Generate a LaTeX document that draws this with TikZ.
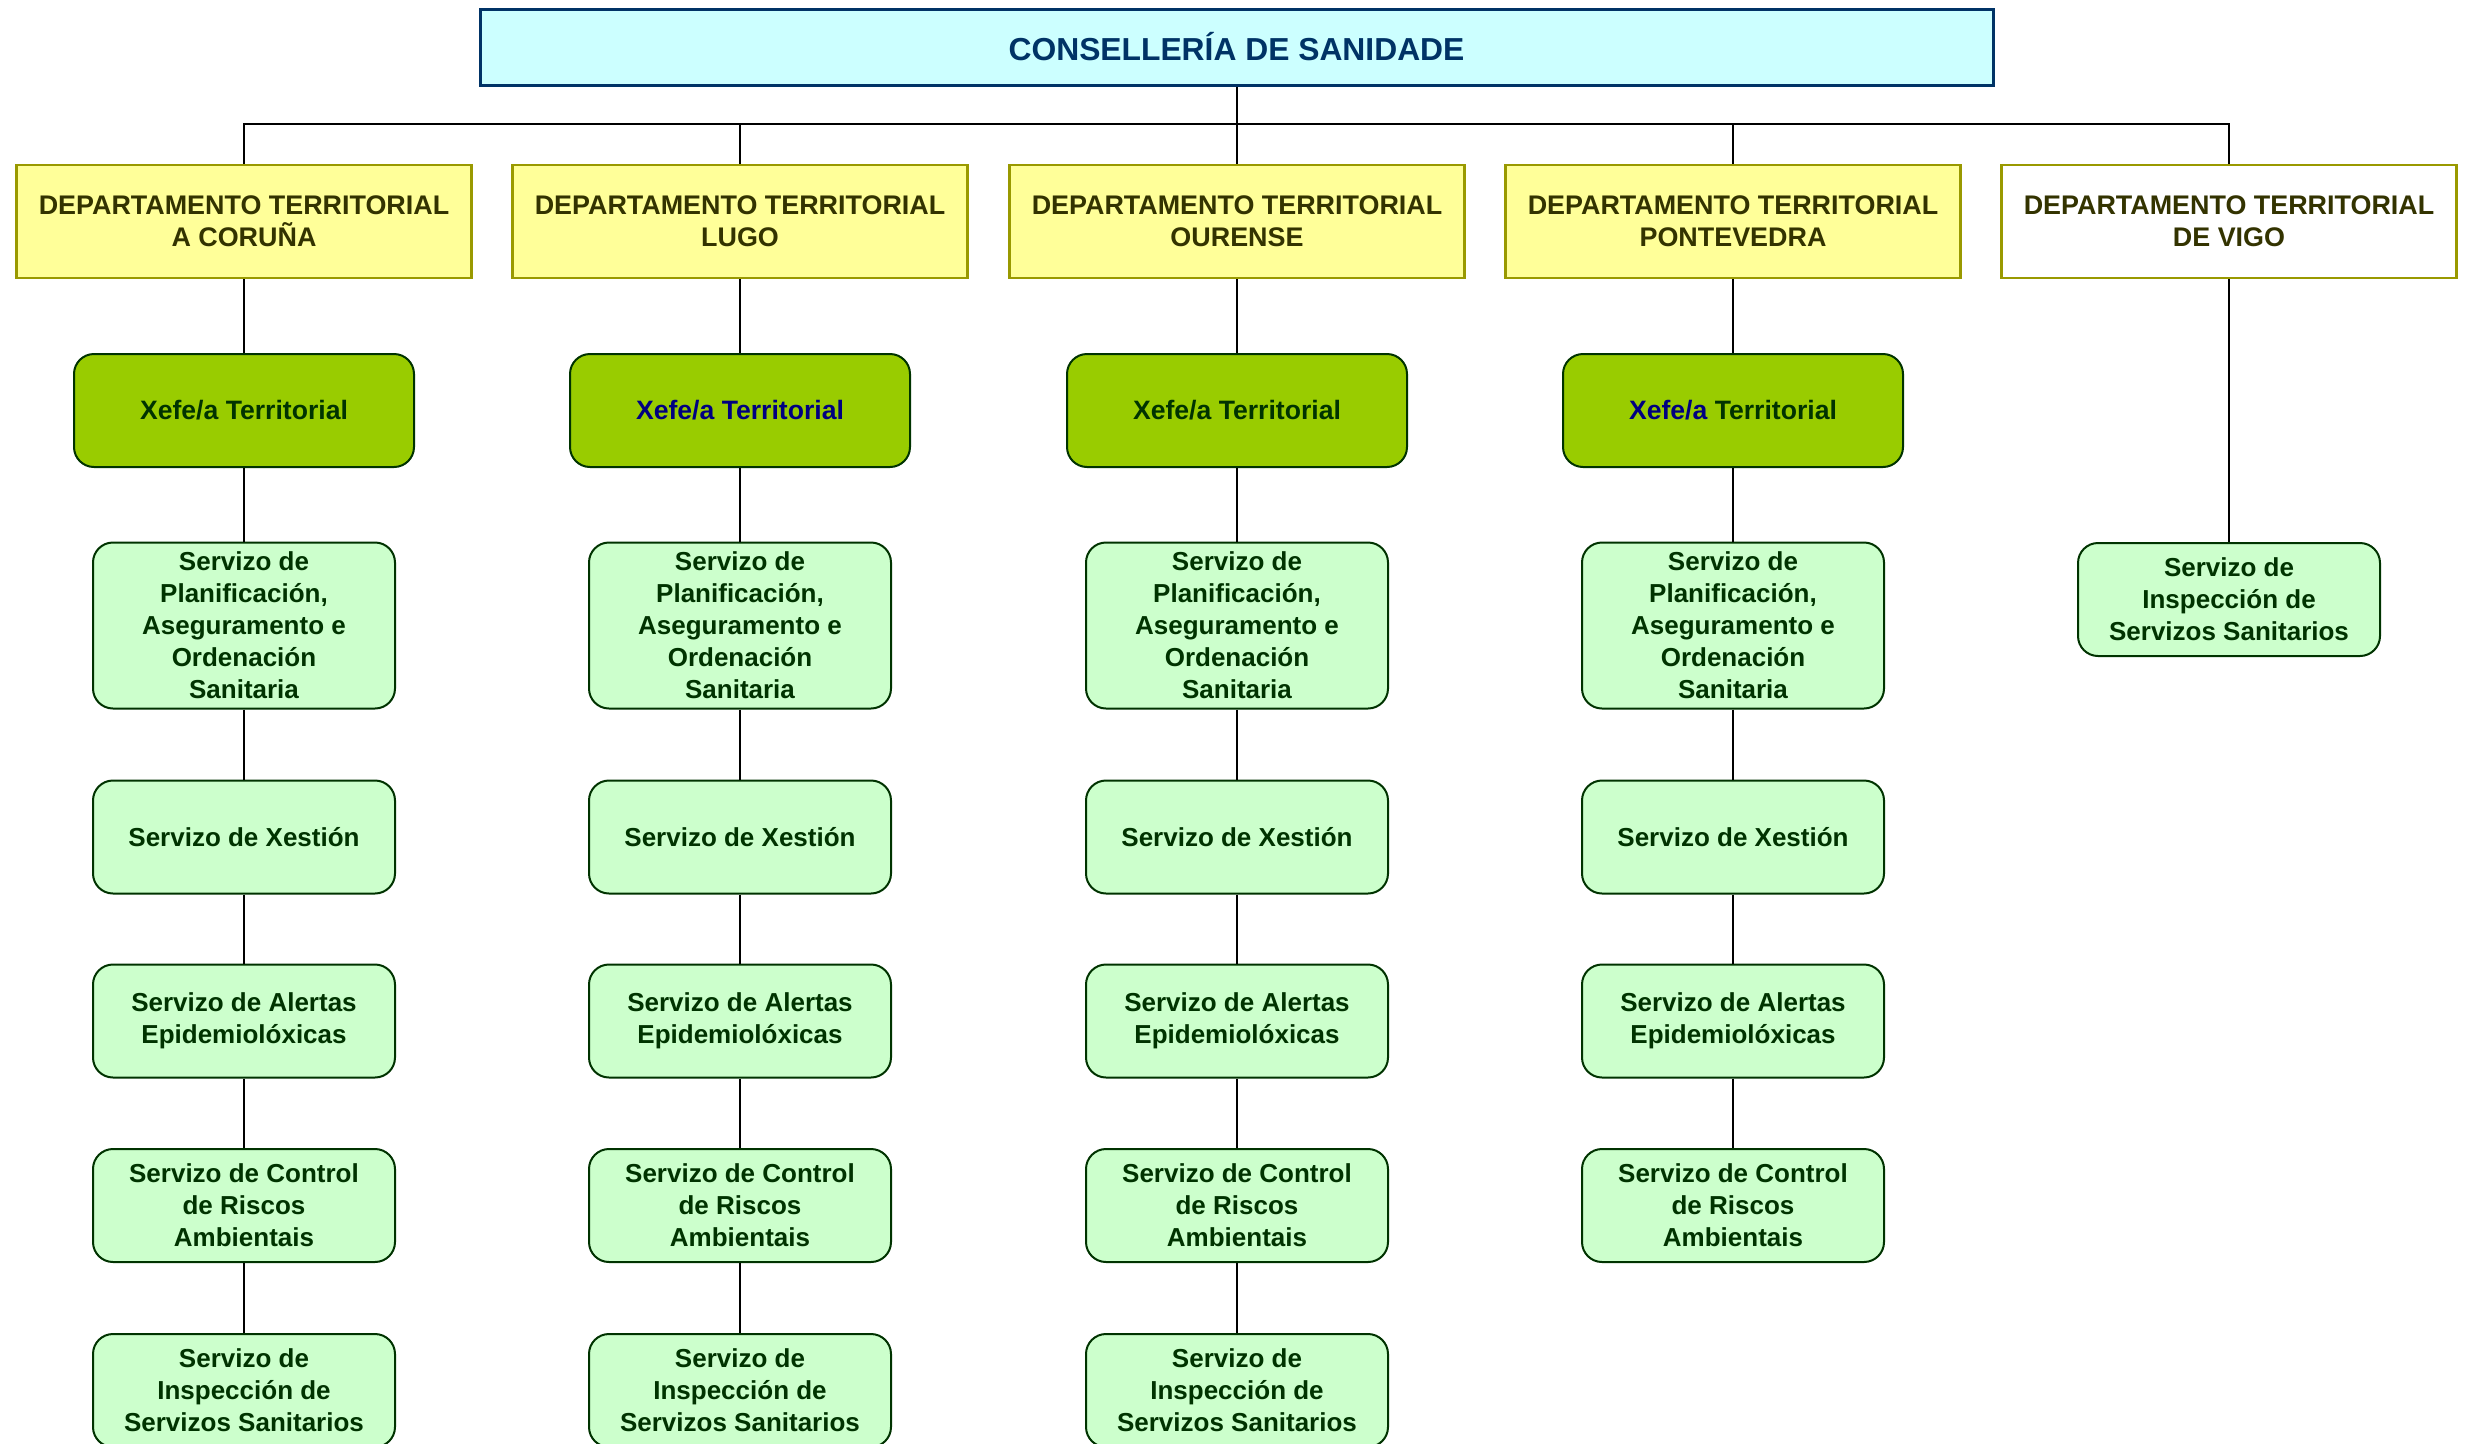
\documentclass[tikz,border=0pt]{standalone}
\usepackage{fontspec}
\setmainfont{Liberation Sans}
\definecolor{topfill}{HTML}{CCFFFF}
\definecolor{topdraw}{HTML}{003366}
\definecolor{deptfill}{HTML}{FFFF99}
\definecolor{deptdraw}{HTML}{999900}
\definecolor{depttext}{HTML}{333300}
\definecolor{xefefill}{HTML}{99CC00}
\definecolor{darkgreen}{HTML}{003300}
\definecolor{servfill}{HTML}{CCFFCC}
\definecolor{navy}{HTML}{000080}
\begin{document}
\begin{tikzpicture}[x=1pt,y=-1pt,
  base/.style={inner sep=0pt, align=center, font=\fontsize{26}{32}\selectfont\bfseries},
  topbox/.style={base, draw=topdraw, line width=3pt, fill=topfill, minimum width=1513pt, minimum height=76pt, text=topdraw, font=\fontsize{31.8}{38}\selectfont\bfseries},
  dept/.style={base, draw=deptdraw, line width=2.5pt, fill=deptfill, minimum width=455pt, minimum height=113pt, text=depttext, font=\fontsize{26.9}{32}\selectfont\bfseries},
  xefe/.style={base, draw=darkgreen, line width=2pt, fill=xefefill, rounded corners=20pt, minimum width=340pt, minimum height=113pt, text=darkgreen, font=\fontsize{26.6}{32}\selectfont\bfseries},
  serv/.style={base, draw=darkgreen, line width=2pt, fill=servfill, rounded corners=20pt, minimum width=302pt, minimum height=113pt, text=darkgreen},
  conn/.style={draw=black, line width=2pt}]
\useasboundingbox (0,0) rectangle (2470,1443);
\clip (0,0) rectangle (2470,1443);
\fill[white] (0,0) rectangle (2470,1443);

\node[topbox] (top) at (1236.5,47) {CONSELLERÍA DE SANIDADE};

\node[dept] (d1) at (244,221.5) {DEPARTAMENTO TERRITORIAL\\A CORUÑA};
\node[dept] (d2) at (740,221.5) {DEPARTAMENTO TERRITORIAL\\LUGO};
\node[dept] (d3) at (1237,221.5) {DEPARTAMENTO TERRITORIAL\\OURENSE};
\node[dept] (d4) at (1733,221.5) {DEPARTAMENTO TERRITORIAL\\PONTEVEDRA};
\node[dept, fill=white] (d5) at (2229,221.5) {DEPARTAMENTO TERRITORIAL\\DE VIGO};

\node[xefe] (x1) at (244,410.5) {Xefe/a Territorial};
\node[xefe, text=navy] (x2) at (740,410.5) {Xefe/a Territorial};
\node[xefe] (x3) at (1237,410.5) {Xefe/a Territorial};
\node[xefe] (x4) at (1733,410.5) {\textcolor{navy}{Xefe/a} Territorial};

\foreach \i/\cx in {1/244,2/740,3/1237,4/1733}{
  \node[serv, minimum height=166pt] (p\i) at (\cx,625.5) {Servizo de\\Planificación,\\Aseguramento e\\Ordenación\\Sanitaria};
  \node[serv] (g\i) at (\cx,837) {Servizo de Xestión};
  \node[serv] (a\i) at (\cx,1021) {Servizo de Alertas\\Epidemiolóxicas};
  \node[serv] (c\i) at (\cx,1205.5) {Servizo de Control\\de Riscos\\Ambientais};
}
\foreach \i/\cx in {1/244,2/740,3/1237}{
  \node[serv] (i\i) at (\cx,1390.5) {Servizo de\\Inspección de\\Servizos Sanitarios};
}
\node[serv] (i5) at (2229,599.5) {Servizo de\\Inspección de\\Servizos Sanitarios};

\coordinate (hub) at (1236.5,124);
\draw[conn] (top.south) -- (hub);
\foreach \i in {1,...,5}{ \draw[conn] (hub) -| (d\i.north); }
\foreach \i in {1,...,4}{
  \draw[conn] (d\i.south) -- (x\i.north);
  \draw[conn] (x\i.south) -- (p\i.north);
  \draw[conn] (p\i.south) -- (g\i.north);
  \draw[conn] (g\i.south) -- (a\i.north);
  \draw[conn] (a\i.south) -- (c\i.north);
}
\foreach \i in {1,2,3}{ \draw[conn] (c\i.south) -- (i\i.north); }
\draw[conn] (d5.south) -- (i5.north);
\end{tikzpicture}
\end{document}
